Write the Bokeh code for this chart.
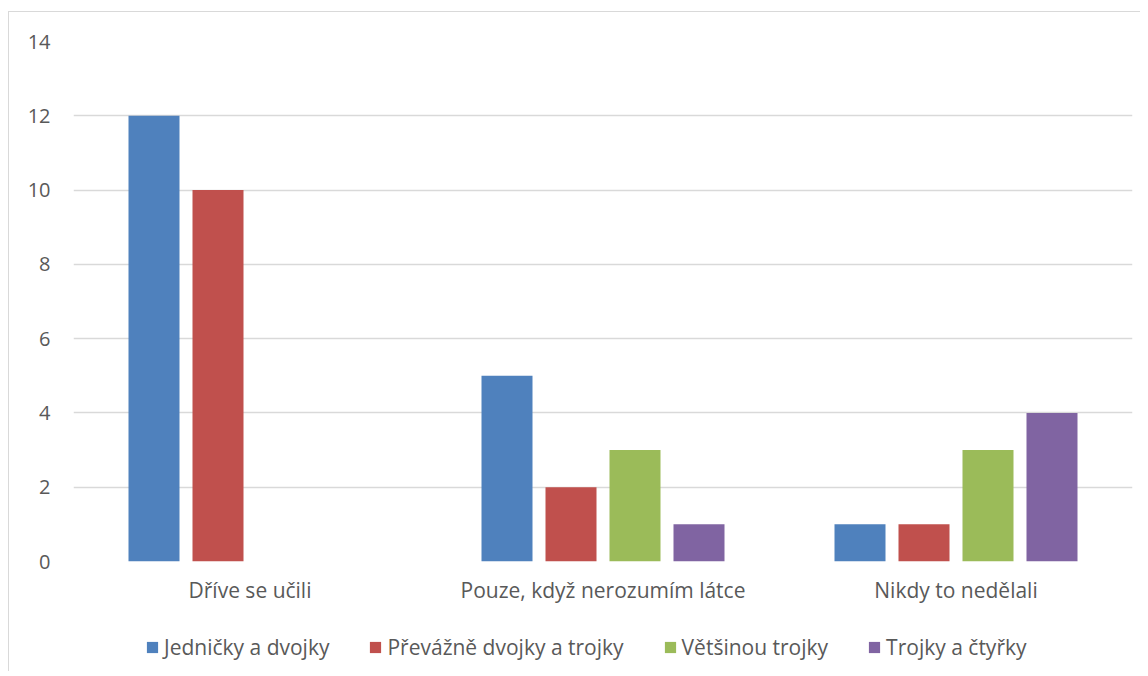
from bokeh.plotting import figure
from bokeh.layouts import column
from bokeh.models import ColumnDataSource, FactorRange, Legend, LegendItem, FixedTicker
from bokeh.transform import dodge
from bokeh.embed import file_html
from bokeh.resources import INLINE

categories = ["Dříve se učili", "Pouze, když nerozumím látce", "Nikdy to nedělali"]
series_names = ["Jedničky a dvojky", "Převážně dvojky a trojky", "Většinou trojky", "Trojky a čtyřky"]
jednicky = [12, 5, 1]
prevazne = [10, 2, 1]
vetsinou = [0, 3, 3]
trojky = [0, 1, 4]
y_ticks = [0, 2, 4, 6, 8, 10, 12, 14]

colors = ["#4F81BD", "#C0504D", "#9BBB59", "#8064A2"]
series_values = [jednicky, prevazne, vetsinou, trojky]

FONT = "Open Sans"
TEXT_COLOR = "#595959"

p = figure(x_range=FactorRange(factors=categories, range_padding=0),
           y_range=(0, 14), frame_width=1059, frame_height=520,
           output_backend="svg", toolbar_location=None,
           min_border_left=64, min_border_right=8, min_border_top=29, min_border_bottom=50)
p.outline_line_color = None
p.background_fill_color = "white"
p.border_fill_color = "white"

data = {"cat": categories}
for i, vals in enumerate(series_values):
    data[f"s{i}"] = vals
src = ColumnDataSource(data)

step = 0.1813
width = 0.1445
for i in range(4):
    off = (i - 1.5) * step
    p.vbar(x=dodge("cat", off, range=p.x_range), top=f"s{i}", width=width,
           source=src, fill_color=colors[i], line_color=None)

p.xgrid.grid_line_color = None
p.ygrid.grid_line_color = "#d9d9d9"
p.ygrid.grid_line_width = 1.3
p.yaxis.ticker = FixedTicker(ticks=y_ticks)

for ax in (p.xaxis[0], p.yaxis[0]):
    ax.axis_line_color = None
    ax.major_tick_line_color = None
    ax.minor_tick_line_color = None
    ax.major_tick_out = 0
    ax.major_tick_in = 0
    ax.minor_tick_out = 0
    ax.major_label_text_font = FONT
    ax.major_label_text_color = TEXT_COLOR
p.yaxis.major_label_text_font_size = "20px"
p.xaxis.major_label_text_font_size = "21px"
p.yaxis.major_label_standoff = 23
p.xaxis.major_label_standoff = 14

# legend strip below the chart (its bars lie outside the visible range; only the legend shows)
lf = figure(width=1131, height=60, output_backend="svg", toolbar_location=None,
            x_axis_type=None, y_axis_type=None, min_border=0,
            x_range=FactorRange(factors=categories, range_padding=0), y_range=(100, 101))
lf.outline_line_color = None
lf.xgrid.grid_line_color = None
lf.ygrid.grid_line_color = None
lf.border_fill_color = "white"
lf.background_fill_color = "white"
leg_renderers = []
for i in range(4):
    off = (i - 1.5) * step
    r = lf.vbar(x=dodge("cat", off, range=lf.x_range), top=f"s{i}", width=width,
                source=src, fill_color=colors[i], line_color=None)
    leg_renderers.append(r)

legend = Legend(items=[LegendItem(label=series_names[i], renderers=[leg_renderers[i]]) for i in range(4)],
                orientation="horizontal", location=(72, 10),
                label_text_font=FONT, label_text_font_size="21px", label_text_color=TEXT_COLOR,
                glyph_width=14, glyph_height=14, label_standoff=5, spacing=39,
                border_line_color=None, background_fill_alpha=0, margin=0, padding=0)
lf.add_layout(legend, "center")

layout = column(p, lf, spacing=0)
layout.margin = (11, 0, 0, 8)
layout.styles = {"border-left": "1px solid #d9d9d9", "border-top": "1px solid #d9d9d9"}

open("out.html", "w").write(file_html(layout, INLINE))
